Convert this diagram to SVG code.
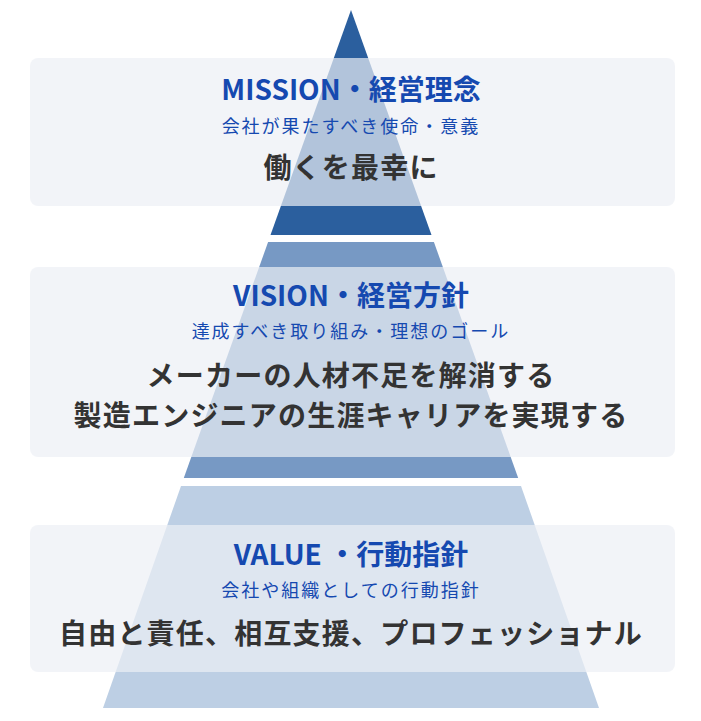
<svg xmlns="http://www.w3.org/2000/svg" width="701" height="721" viewBox="0 0 701 721">
<style>
.box{fill:#edf0f5;fill-opacity:0.7}
text{font-family:"Noto Sans CJK JP","Noto Sans",sans-serif;text-anchor:middle}
.t{fill:#1549b0;font-size:28px;font-weight:bold}
.s{fill:#1549b0;font-size:18px;letter-spacing:2px}
.m{fill:#333;font-size:28px;font-weight:bold;letter-spacing:1.2px}
</style>
<rect width="701" height="721" fill="#fff"/>
<g id="pyramid">
<polygon points="351,10 431.5,235 270.5,235" fill="#2b5f9e"/>
<polygon points="433.9,242 268.1,242 183.8,478 518.2,478" fill="#7799c4"/>
<polygon points="521,486 181,486 103,708 599,708" fill="#bdcfe4"/>
</g>
<g id="mission">
<rect class="box" x="30" y="58" width="645" height="148" rx="8"/>
<text class="t" x="351" y="100">MISSION・経営理念</text>
<text class="s" x="351" y="133">会社が果たすべき使命・意義</text>
<text class="m" x="351" y="178">働くを最幸に</text>
</g>
<g id="vision">
<rect class="box" x="30" y="267" width="645" height="190" rx="8"/>
<text class="t" x="351" y="306">VISION・経営方針</text>
<text class="s" x="351" y="338">達成すべき取り組み・理想のゴール</text>
<text class="m" x="351" y="386">メーカーの人材不足を解消する</text>
<text class="m" x="351" y="426">製造エンジニアの生涯キャリアを実現する</text>
</g>
<g id="value">
<rect class="box" x="30" y="525" width="645" height="147" rx="8"/>
<text class="t" x="351" y="565">VALUE ・行動指針</text>
<text class="s" x="351" y="597">会社や組織としての行動指針</text>
<text class="m" x="351" y="644">自由と責任、相互支援、プロフェッショナル</text>
</g>
<g id="connectors"/>
</svg>
